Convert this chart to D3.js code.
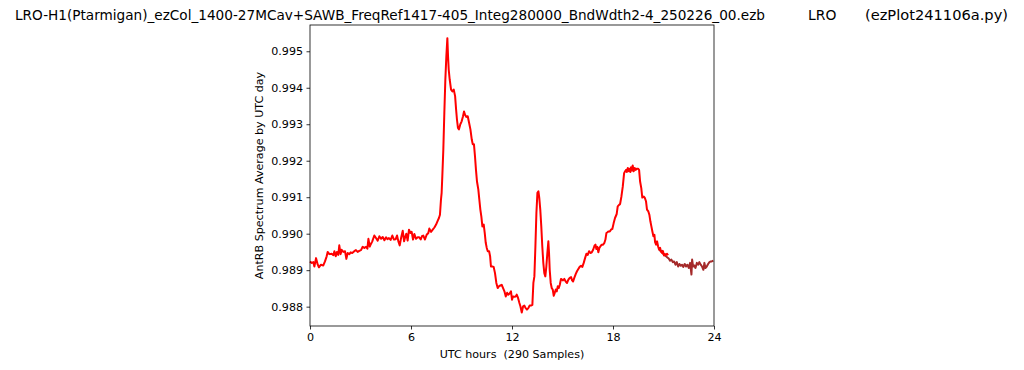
<!DOCTYPE html>
<html>
<head>
<meta charset="utf-8">
<script src="https://cdn.jsdelivr.net/npm/d3@7"></script>
<style>
  html, body { margin: 0; padding: 0; background: #fff; }
  text { font-family: "DejaVu Sans", sans-serif; fill: #000; white-space: pre; }
</style>
</head>
<body>
<script>
// ---- data ----
const titleMain = "LRO-H1(Ptarmigan)_ezCol_1400-27MCav+SAWB_FreqRef1417-405_Integ280000_BndWdth2-4_250226_00.ezb";
const titleMid = "LRO";
const titleRight = "(ezPlot241106a.py)";
const xLabel = "UTC hours  (290 Samples)";
const yLabel = "AntRB Spectrum Average by UTC day";

const xTicks = [0, 6, 12, 18, 24];
const yTicks = [0.988, 0.989, 0.990, 0.991, 0.992, 0.993, 0.994, 0.995];

const redHours = [
  0.00,0.10,0.20,0.26,0.36,0.46,0.53,0.65,0.79,0.89,0.99,1.05,1.15,1.29,1.39,1.45,1.53,1.60,1.68,1.74,
  1.82,1.88,1.98,2.08,2.16,2.24,2.34,2.42,2.51,2.63,2.73,2.83,2.93,3.03,3.13,3.23,3.33,3.41,3.47,3.55,
  3.62,3.70,3.82,3.92,4.02,4.12,4.22,4.32,4.42,4.52,4.60,4.69,4.79,4.89,4.99,5.09,5.17,5.25,5.33,5.41,
  5.51,5.59,5.64,5.72,5.80,5.88,5.96,6.04,6.12,6.20,6.30,6.40,6.49,6.58,6.65,6.73,6.83,6.93,7.03,7.09,
  7.19,7.29,7.39,7.49,7.59,7.66,7.72,7.78,7.82,7.86,7.92,7.98,8.04,8.10,8.16,8.20,8.24,8.30,8.38,8.46,
  8.54,8.62,8.68,8.73,8.79,8.85,8.93,9.01,9.09,9.15,9.21,9.29,9.37,9.45,9.53,9.61,9.67,9.74,9.80,9.86,
  9.92,10.00,10.06,10.12,10.18,10.24,10.32,10.38,10.44,10.50,10.56,10.64,10.70,10.75,10.83,10.91,10.99,11.07,11.15,11.23,
  11.31,11.39,11.47,11.55,11.63,11.71,11.78,11.86,11.94,12.00,12.06,12.14,12.22,12.28,12.36,12.44,12.50,12.58,12.66,12.73,
  12.81,12.89,12.97,13.05,13.13,13.21,13.27,13.33,13.39,13.45,13.51,13.57,13.62,13.68,13.74,13.80,13.86,13.92,13.98,14.04,
  14.10,14.16,14.20,14.24,14.30,14.36,14.42,14.48,14.54,14.60,14.66,14.72,14.78,14.84,14.91,14.97,15.03,15.11,15.19,15.27,
  15.35,15.43,15.51,15.57,15.63,15.70,15.79,15.86,15.94,16.02,16.10,16.18,16.26,16.34,16.42,16.50,16.58,16.66,16.74,16.82,
  16.90,16.96,17.01,17.07,17.13,17.19,17.25,17.33,17.41,17.49,17.55,17.61,17.67,17.72,17.81,17.88,17.96,18.04,18.12,18.22,
  18.28,18.36,18.42,18.50,18.58,18.66,18.72,18.78,18.82,18.88,18.94,18.97,19.03,19.07,19.13,19.17,19.23,19.29,19.35,19.41,
  19.49,19.55,19.61,19.68,19.74,19.83,19.89,19.96,20.02,20.10,20.16,20.22,20.28,20.34,20.40,20.46,20.50,20.56,20.62,20.68,
  20.74,20.80,20.86,20.92,20.97,21.03,21.09,21.15,21.21,21.27
];
const redValues = [
  0.98924,0.98920,0.98922,0.98910,0.98933,0.98915,0.98908,0.98915,0.98913,0.98924,0.98938,0.98950,0.98944,0.98945,0.98941,0.98952,0.98938,0.98950,0.98942,0.98968,
  0.98944,0.98956,0.98950,0.98952,0.98931,0.98947,0.98944,0.98949,0.98947,0.98952,0.98955,0.98950,0.98953,0.98955,0.98964,0.98961,0.98964,0.98959,0.98986,0.98965,
  0.98972,0.98979,0.98995,0.98988,0.98981,0.98993,0.98986,0.98991,0.98982,0.98990,0.98985,0.98988,0.98983,0.98995,0.98984,0.98985,0.98995,0.98979,0.98968,0.98988,
  0.99008,0.98979,0.98988,0.99000,0.98981,0.99011,0.99002,0.99005,0.98984,0.98999,0.98986,0.98990,0.98990,0.98984,0.98993,0.98995,0.98984,0.98997,0.99002,0.99014,
  0.99005,0.99011,0.99017,0.99025,0.99036,0.99043,0.99052,0.99093,0.99112,0.99157,0.99230,0.99331,0.99422,0.99486,0.99536,0.99486,0.99450,0.99422,0.99395,0.99390,
  0.99395,0.99377,0.99340,0.99313,0.99290,0.99286,0.99300,0.99308,0.99322,0.99335,0.99326,0.99320,0.99322,0.99304,0.99286,0.99258,0.99245,0.99245,0.99213,0.99175,
  0.99143,0.99121,0.99093,0.99066,0.99047,0.99020,0.99025,0.99002,0.98975,0.98961,0.98952,0.98952,0.98938,0.98910,0.98910,0.98909,0.98892,0.98865,0.98851,0.98856,
  0.98858,0.98860,0.98851,0.98842,0.98828,0.98838,0.98833,0.98836,0.98842,0.98819,0.98828,0.98827,0.98828,0.98833,0.98824,0.98810,0.98801,0.98784,0.98801,0.98803,
  0.98796,0.98792,0.98796,0.98803,0.98803,0.98805,0.98865,0.98883,0.98965,0.99057,0.99112,0.99116,0.99098,0.99066,0.99020,0.98965,0.98920,0.98892,0.98883,0.98910,
  0.98947,0.98979,0.98947,0.98901,0.98865,0.98851,0.98847,0.98830,0.98838,0.98847,0.98842,0.98856,0.98851,0.98860,0.98876,0.98874,0.98872,0.98876,0.98869,0.98865,
  0.98874,0.98879,0.98881,0.98872,0.98869,0.98879,0.98890,0.98897,0.98903,0.98909,0.98912,0.98909,0.98920,0.98933,0.98945,0.98942,0.98952,0.98947,0.98949,0.98956,
  0.98967,0.98970,0.98958,0.98964,0.98949,0.98961,0.98965,0.98970,0.98970,0.98975,0.98984,0.99002,0.99004,0.99006,0.99006,0.99011,0.99013,0.99029,0.99043,0.99054,
  0.99075,0.99079,0.99081,0.99102,0.99129,0.99166,0.99171,0.99175,0.99169,0.99180,0.99171,0.99178,0.99169,0.99182,0.99173,0.99187,0.99171,0.99180,0.99175,0.99178,
  0.99178,0.99175,0.99143,0.99125,0.99099,0.99102,0.99098,0.99089,0.99066,0.99061,0.99052,0.99034,0.99020,0.99006,0.98993,0.98997,0.98977,0.98970,0.98979,0.98965,
  0.98956,0.98961,0.98950,0.98947,0.98952,0.98940,0.98944,0.98942,0.98945,0.98941
];

const tailHours = [
  20.76,20.84,20.92,20.99,21.07,21.15,21.23,21.31,21.39,21.47,21.55,21.63,21.71,21.79,21.87,21.95,22.03,22.10,22.18,22.26,
  22.34,22.42,22.50,22.58,22.66,22.70,22.76,22.82,22.90,22.98,23.06,23.13,23.21,23.29,23.37,23.43,23.49,23.57,23.65,23.73,
  23.81,23.87,23.96
];
const tailValues = [
  0.98956,0.98952,0.98953,0.98944,0.98942,0.98938,0.98935,0.98932,0.98926,0.98929,0.98922,0.98924,0.98915,0.98922,0.98910,0.98917,0.98912,0.98915,0.98909,0.98917,
  0.98910,0.98915,0.98906,0.98920,0.98888,0.98929,0.98910,0.98913,0.98906,0.98920,0.98915,0.98922,0.98915,0.98910,0.98901,0.98920,0.98906,0.98910,0.98917,0.98922,
  0.98924,0.98924,0.98926
];

// ---- drawing ----
const W = 1024, H = 370;
const svg = d3.select("body").append("svg").attr("width", W).attr("height", H);

const x = d3.scaleLinear().domain([0, 24]).range([310, 714]);
const y = d3.scaleLinear().domain([0.98747, 0.99572]).range([326, 25]);

// title
const titleSize = "13.9px";
svg.append("text").attr("x", 15).attr("y", 20).style("font-size", titleSize)
  .attr("textLength", 750).attr("lengthAdjust", "spacingAndGlyphs").text(titleMain);
svg.append("text").attr("x", 808).attr("y", 20).style("font-size", titleSize).text(titleMid);
svg.append("text").attr("x", 865).attr("y", 20).style("font-size", titleSize)
  .attr("textLength", 143).attr("lengthAdjust", "spacingAndGlyphs").text(titleRight);

// lines
const line = d3.line().x(d => x(d[0])).y(d => y(d[1]));
const redData = redHours.map((h, i) => [h, redValues[i]]);
const tailData = tailHours.map((h, i) => [h, tailValues[i]]);

svg.append("path").datum(tailData).attr("d", line)
  .attr("fill", "none").attr("stroke", "#a52a2a").attr("stroke-width", 2)
  .attr("stroke-linejoin", "round").attr("stroke-linecap", "butt");
svg.append("path").datum(redData).attr("d", line)
  .attr("fill", "none").attr("stroke", "#ff0000").attr("stroke-width", 2)
  .attr("stroke-linejoin", "round").attr("stroke-linecap", "butt");

// axes
const xAxis = d3.axisBottom(x).tickValues(xTicks).tickFormat(d3.format("d"))
  .tickSize(3.5).tickPadding(3.5);
const yAxis = d3.axisLeft(y).tickValues(yTicks).tickFormat(d3.format(".3f"))
  .tickSize(3.5).tickPadding(3.5);

const gx = svg.append("g").attr("transform", "translate(0,326)").call(xAxis);
const gy = svg.append("g").attr("transform", "translate(310,0)").call(yAxis);
[gx, gy].forEach(g => {
  g.select(".domain").remove();
  g.selectAll("line").attr("stroke", "#000").attr("stroke-width", 0.8);
  g.selectAll("text").style("font-family", "DejaVu Sans").style("font-size", "11.1px").attr("fill", "#000");
});

// frame (spines)
svg.append("rect").attr("x", x(0)).attr("y", y.range()[1])
  .attr("width", x(24) - x(0)).attr("height", y.range()[0] - y.range()[1])
  .attr("fill", "none").attr("stroke", "#000").attr("stroke-width", 0.8);

// axis labels
svg.append("text").attr("x", (x(0) + x(24)) / 2).attr("y", 358)
  .attr("text-anchor", "middle").style("font-size", "11.1px").text(xLabel);
svg.append("text")
  .attr("transform", `translate(263,${(y.range()[0] + y.range()[1]) / 2}) rotate(-90)`)
  .attr("text-anchor", "middle").style("font-size", "11.1px").text(yLabel);
</script>
</body>
</html>
